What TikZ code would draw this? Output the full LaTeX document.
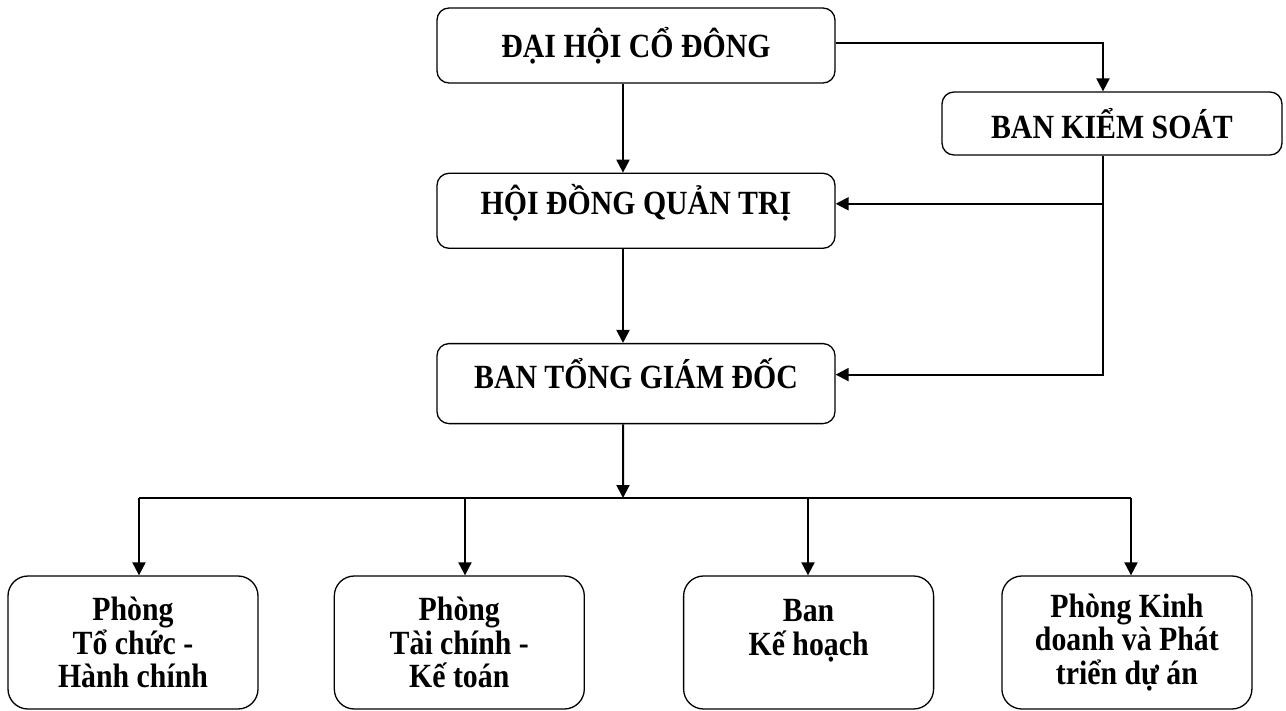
\documentclass[tikz,border=0pt]{standalone}
\usepackage{fontspec}
\setmainfont{Liberation Serif}[FakeStretch=0.88]
\usetikzlibrary{arrows.meta,positioning}

\begin{document}
\begin{tikzpicture}[x=1bp,y=1bp,
        font=\bfseries\fontsize{34}{34}\selectfont,
        >={Triangle[length=13bp,width=13bp]},
        topbox/.style={draw,line width=1.3bp,rounded corners=12bp,minimum width=398bp,minimum height=75bp,inner sep=0pt},
        deptbox/.style={draw,line width=1.3bp,rounded corners=20bp,minimum width=250bp,minimum height=133bp,align=center,inner sep=0pt},
        link/.style={line width=2bp}]
        \useasboundingbox (0,0) rectangle (1286,-711);

        \begin{scope}
            %top level
            \node[topbox] (dhcd) at (636,-45.5) {ĐẠI HỘI CỔ ĐÔNG};
            \node[topbox,minimum width=340bp,minimum height=63bp] (bks) at (1112,-123.5) {BAN KIỂM SOÁT};

            %middle
            \node[topbox,text depth=22bp,below = 89bp of dhcd] (hdqt) {HỘI ĐỒNG QUẢN TRỊ};
            \node[topbox,text depth=20bp,minimum height=80bp,below = 94bp of hdqt] (btgd) {BAN TỔNG GIÁM ĐỐC};

            %departments
            \node[deptbox] (ptchc) at (133,-642.5) {Phòng\\Tổ chức -\\Hành chính};
            \node[deptbox,right = 75bp of ptchc] (ptckt) {Phòng\\Tài chính -\\Kế toán};
            \node[deptbox,text depth=30bp,right = 98bp of ptckt] (bkh) {Ban\\Kế hoạch};
            \node[deptbox,right = 67bp of bkh] (pkd) {Phòng Kinh\\doanh và Phát\\triển dự án};
        \end{scope}

        \coordinate (ksfoot) at ([xshift=-9bp]bks.south);
        \coordinate (hdqtin) at ([yshift=7bp]hdqt.east);
        \coordinate (btgdin) at ([yshift=9bp]btgd.east);
        \coordinate (busmid) at (623,-498);
        \coordinate (drop1) at (139,-498);
        \coordinate (drop2) at (465,-498);
        \coordinate (drop3) at (808,-498);
        \coordinate (drop4) at (1131,-498);

        %main line
        \begin{scope}[link]
            \draw[->] ([xshift=-13bp]dhcd.south) -- ([xshift=-13bp]hdqt.north);
            \draw[->] ([xshift=-13bp]hdqt.south) -- ([xshift=-13bp]btgd.north);
            \draw[->] ([xshift=-13bp]btgd.south) -- (busmid);
            \draw (drop1) -- (drop4);
            \foreach \d/\b in {drop1/ptchc,drop2/ptckt,drop3/bkh,drop4/pkd}
                \draw[->] (\d) -- (\d |- \b.north);
        \end{scope}

        %supervision
        \begin{scope}[link]
            \draw[->] ([yshift=2bp]dhcd.east) -| (ksfoot |- bks.north);
            \draw[->] (ksfoot) |- (btgdin);
            \draw[->] (ksfoot |- hdqtin) -- (hdqtin);
        \end{scope}
    \end{tikzpicture}
\end{document}
